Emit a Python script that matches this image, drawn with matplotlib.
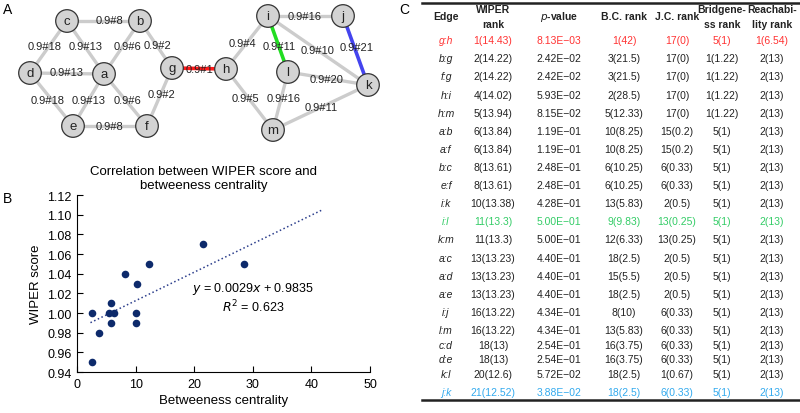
import matplotlib
matplotlib.use('Agg')
import matplotlib.pyplot as plt
from matplotlib.patches import Circle
import numpy as np

plt.rcParams['font.family'] = ['Liberation Sans', 'DejaVu Sans']

# ---- panel A: network ----
nodes = ['a', 'b', 'c', 'd', 'e', 'f', 'g', 'h', 'i', 'j', 'k', 'l', 'm']
edges = [('c', 'b', '0.9#8'), ('c', 'd', '0.9#18'), ('c', 'a', '0.9#13'), ('b', 'a', '0.9#6'),
         ('b', 'g', '0.9#2'), ('d', 'a', '0.9#13'), ('d', 'e', '0.9#18'), ('a', 'e', '0.9#13'),
         ('a', 'f', '0.9#6'), ('f', 'g', '0.9#2'), ('e', 'f', '0.9#8'), ('g', 'h', '0.9#1'),
         ('h', 'i', '0.9#4'), ('i', 'l', '0.9#11'), ('i', 'k', '0.9#10'), ('j', 'k', '0.9#21'),
         ('i', 'j', '0.9#16'), ('l', 'k', '0.9#20'), ('h', 'm', '0.9#5'), ('l', 'm', '0.9#16'),
         ('m', 'k', '0.9#11')]
highlight = {('g', 'h'): '#ff1a1a', ('i', 'l'): '#22dd22', ('j', 'k'): '#4444ee'}

# ---- panel B: scatter ----
bc = [2.5, 2.5, 3.75, 5.5, 5.83, 5.83, 6.33, 8.25, 10, 10, 10.25, 12.33, 21.5, 28.5]
wiper = [1.00, 0.95, 0.98, 1.00, 1.01, 0.99, 1.00, 1.04, 1.00, 0.99, 1.03, 1.05, 1.07, 1.05]
slope, intercept, r2 = 0.0029, 0.9835, 0.623

# ---- panel C: table ----
header = ['Edge', 'WIPER\nrank', '$\\it{p}$-value', 'B.C. rank', 'J.C. rank',
          'Bridgene-\nss rank', 'Reachabi-\nlity rank']
edge_names = ['g:h', 'b:g', 'f:g', 'h:i', 'h:m', 'a:b', 'a:f', 'b:c', 'e:f', 'i:k', 'i:l',
              'k:m', 'a:c', 'a:d', 'a:e', 'i:j', 'l:m', 'c:d', 'd:e', 'k:l', 'j:k']
wiper_rank = ['1(14.43)', '2(14.22)', '2(14.22)', '4(14.02)', '5(13.94)', '6(13.84)', '6(13.84)',
              '8(13.61)', '8(13.61)', '10(13.38)', '11(13.3)', '11(13.3)', '13(13.23)', '13(13.23)',
              '13(13.23)', '16(13.22)', '16(13.22)', '18(13)', '18(13)', '20(12.6)', '21(12.52)']
pvalue = ['8.13E\u221203', '2.42E\u221202', '2.42E\u221202', '5.93E\u221202', '8.15E\u221202',
          '1.19E\u221201', '1.19E\u221201', '2.48E\u221201', '2.48E\u221201', '4.28E\u221201',
          '5.00E\u221201', '5.00E\u221201', '4.40E\u221201', '4.40E\u221201', '4.40E\u221201',
          '4.34E\u221201', '4.34E\u221201', '2.54E\u221201', '2.54E\u221201', '5.72E\u221202',
          '3.88E\u221202']
bc_rank = ['1(42)', '3(21.5)', '3(21.5)', '2(28.5)', '5(12.33)', '10(8.25)', '10(8.25)', '6(10.25)',
           '6(10.25)', '13(5.83)', '9(9.83)', '12(6.33)', '18(2.5)', '15(5.5)', '18(2.5)', '8(10)',
           '13(5.83)', '16(3.75)', '16(3.75)', '18(2.5)', '18(2.5)']
jc_rank = ['17(0)', '17(0)', '17(0)', '17(0)', '17(0)', '15(0.2)', '15(0.2)', '6(0.33)', '6(0.33)',
           '2(0.5)', '13(0.25)', '13(0.25)', '2(0.5)', '2(0.5)', '2(0.5)', '6(0.33)', '6(0.33)',
           '6(0.33)', '6(0.33)', '1(0.67)', '6(0.33)']
bridge_rank = ['5(1)', '1(1.22)', '1(1.22)', '1(1.22)', '1(1.22)'] + ['5(1)'] * 16
reach_rank = ['1(6.54)'] + ['2(13)'] * 20
row_colors = {'g:h': '#ff3333', 'i:l': '#33cc66', 'j:k': '#33aaee'}

fig = plt.figure(figsize=(8, 4.14), dpi=100)
ax = fig.add_axes([0, 0, 1, 1])
ax.set_xlim(0, 800)
ax.set_ylim(414, 0)
ax.axis('off')

pos = {'c': (67, 22), 'b': (140, 22), 'd': (30, 74), 'a': (104, 75), 'g': (172, 69),
       'h': (226, 70), 'e': (73, 127), 'f': (147, 127), 'i': (268, 17), 'j': (343, 17),
       'l': (288, 73), 'k': (368, 86), 'm': (273, 131)}
label_pos = [(109, 21), (45, 47), (86, 47), (128, 47), (158, 46), (67, 73), (48, 101), (89, 101),
             (127, 101), (161, 95), (110, 127), (199, 70), (242, 44), (279, 47), (318, 51),
             (357, 48), (305, 17), (327, 80), (245, 99), (284, 99), (321, 108)]

for (u, v, lab), lp in zip(edges, label_pos):
    col = highlight.get((u, v), '#cccccc')
    lw = 2.6 if col != '#cccccc' else 2.4
    ax.plot([pos[u][0], pos[v][0]], [pos[u][1], pos[v][1]], color=col, lw=lw,
            solid_capstyle='butt', zorder=1)
    ax.text(lp[0], lp[1], lab, ha='center', va='center', fontsize=8, color='#222222', zorder=2)

for n in nodes:
    ax.add_patch(Circle(pos[n], 11.3, facecolor='#d3d3d3', edgecolor='#333333', lw=0.9, zorder=3))
    ax.text(pos[n][0], pos[n][1], n, ha='center', va='center', fontsize=9.5, color='#222222', zorder=4)

ax.text(3, 10, 'A', fontsize=10, va='center', ha='left')
ax.text(3, 199, 'B', fontsize=10, va='center', ha='left')
ax.text(399, 10, 'C', fontsize=10, va='center', ha='left')

# table
col_x = [446, 493, 559, 624, 677, 722, 772]
row_y = [41, 59, 77, 96, 114, 132, 150, 168, 186, 204, 222, 240, 259, 277, 295, 313, 331,
         346, 360, 375, 393]
ax.plot([422, 799], [4, 4], color='#222222', lw=1.8)
ax.plot([422, 799], [401, 401], color='#222222', lw=1.8)
for x, h in zip(col_x, header):
    if '\n' in h:
        t1, t2 = h.split('\n')
        ax.text(x, 10, t1, ha='center', va='center', fontsize=7.5, fontweight='bold', color='#222222')
        ax.text(x, 25, t2, ha='center', va='center', fontsize=7.5, fontweight='bold', color='#222222')
    else:
        ax.text(x, 17, h, ha='center', va='center', fontsize=7.5, fontweight='bold', color='#222222')

columns = [edge_names, wiper_rank, pvalue, bc_rank, jc_rank, bridge_rank, reach_rank]
for r, y in enumerate(row_y):
    col = row_colors.get(edge_names[r], '#222222')
    for c, x in enumerate(col_x):
        ax.text(x, y, columns[c][r], ha='center', va='center', fontsize=7.5, color=col,
                style='italic' if c == 0 else 'normal')

# panel B scatter
bx = fig.add_axes([77 / 800, (414 - 373) / 414, 293 / 800, (373 - 196) / 414])
bx.scatter(bc, wiper, s=30, color='#0d2a6b', zorder=3, linewidths=0)
xs = np.array([2.3, 42])
bx.plot(xs, slope * xs + intercept, linestyle=':', color='#2c3e8c', lw=1.1)
bx.set_xlim(0, 50)
bx.set_ylim(0.94, 1.12)
bx.set_xticks([0, 10, 20, 30, 40, 50])
bx.set_yticks(np.arange(0.94, 1.121, 0.02))
bx.set_yticklabels(['%.2f' % v for v in np.arange(0.94, 1.121, 0.02)])
bx.tick_params(direction='in', length=4, labelsize=9, width=0.8, pad=4)
for s in ['top', 'right']:
    bx.spines[s].set_visible(False)
for s in ['left', 'bottom']:
    bx.spines[s].set_linewidth(0.8)
bx.set_xlabel('Betweeness centrality', fontsize=9.5, labelpad=3)
bx.set_ylabel('WIPER score', fontsize=9.5, labelpad=4)
bx.text(30, 1.025, '$\\it{y}$ = 0.0029$\\it{x}$ + 0.9835', ha='center', va='center', fontsize=9)
bx.text(30, 1.007, '$\\it{R}^2$ = %.3f' % r2, ha='center', va='center', fontsize=9)
fig.text(204 / 800, 1 - 179 / 414, 'Correlation between WIPER score and\nbetweeness centrality',
         ha='center', va='center', fontsize=9.5, linespacing=1.25)

fig.savefig('out.png', dpi=100)
